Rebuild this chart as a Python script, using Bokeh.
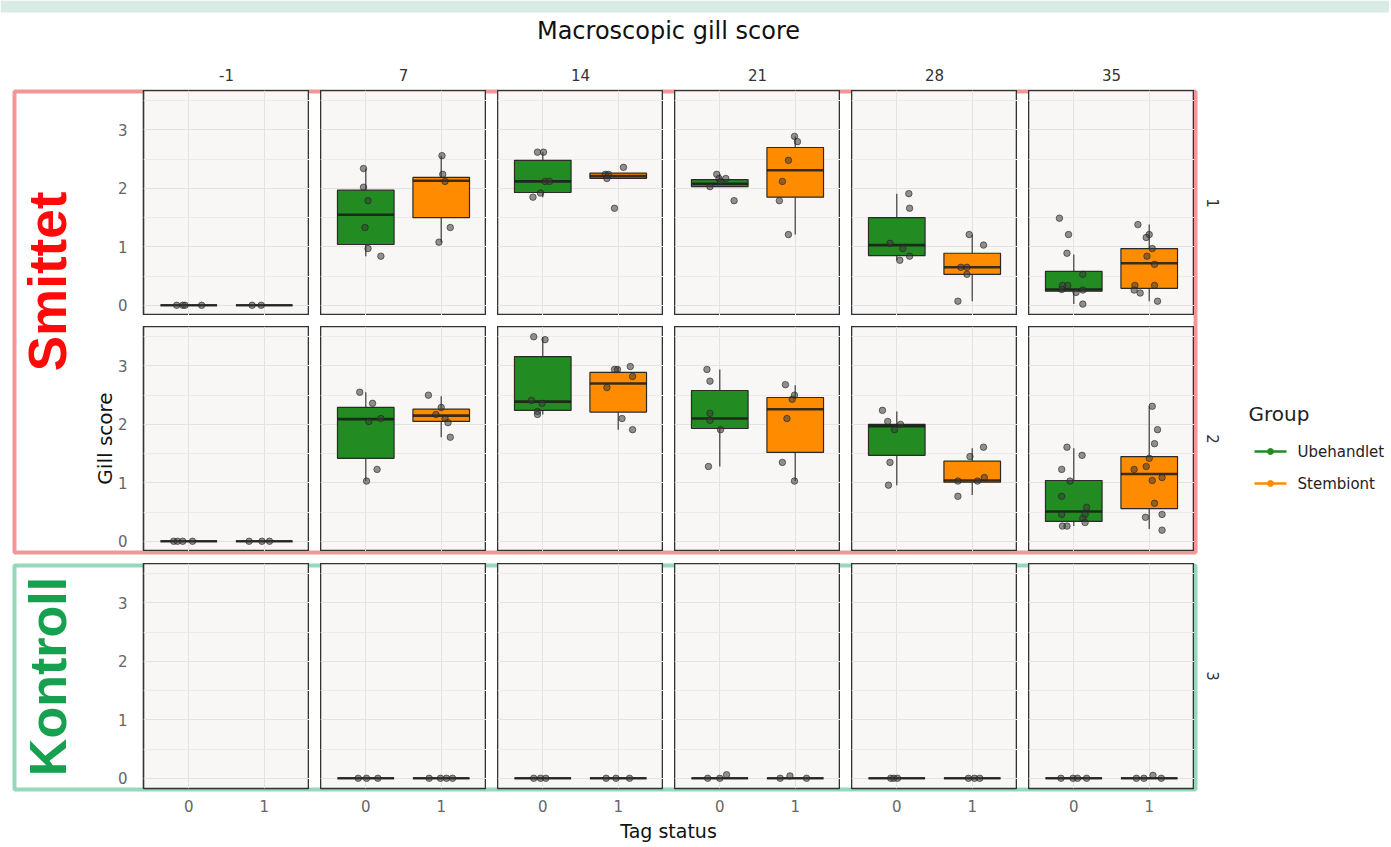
import math
from bokeh.plotting import figure
from bokeh.models import Range1d, FixedTicker, GridBox, ColumnDataSource
from bokeh.transform import dodge
from bokeh.core.properties import value
from bokeh.embed import file_html
from bokeh.resources import INLINE

# ---------------- data ----------------
days = ["-1", "7", "14", "21", "28", "35"]
row_labels = ["1", "2", "3"]
tag_values = [0, 1]
groups = ["Ubehandlet", "Stembiont"]
group_colors = ["#228B22", "#FF8C00"]

# box statistics, per day: [tag 0, tag 1]
r1_lo  = [0, 0, 0.84, 1.08, 1.85, 2.17, 2.03, 1.21, 0.77, 0.07, 0.02, 0.07]
r1_q1  = [0, 0, 1.04, 1.50, 1.93, 2.17, 2.03, 1.85, 0.85, 0.53, 0.24, 0.29]
r1_med = [0, 0, 1.55, 2.13, 2.12, 2.21, 2.08, 2.31, 1.03, 0.65, 0.27, 0.72]
r1_q3  = [0, 0, 1.97, 2.19, 2.48, 2.26, 2.15, 2.70, 1.50, 0.89, 0.58, 0.97]
r1_hi  = [0, 0, 2.34, 2.56, 2.62, 2.26, 2.24, 2.89, 1.91, 1.21, 0.87, 1.38]

r2_lo  = [0, 0, 1.03, 1.78, 2.17, 1.91, 1.28, 1.03, 0.96, 0.79, 0.26, 0.21]
r2_q1  = [0, 0, 1.42, 2.05, 2.24, 2.21, 1.93, 1.52, 1.47, 1.01, 0.34, 0.56]
r2_med = [0, 0, 2.09, 2.15, 2.39, 2.70, 2.10, 2.26, 1.97, 1.04, 0.51, 1.15]
r2_q3  = [0, 0, 2.29, 2.26, 3.16, 2.89, 2.58, 2.46, 2.00, 1.37, 1.04, 1.45]
r2_hi  = [0, 0, 2.55, 2.48, 3.49, 2.99, 2.94, 2.67, 2.22, 1.59, 1.59, 2.31]

r3_lo  = [None, None, 0, 0, 0, 0, 0, 0, 0, 0, 0, 0]
r3_q1  = [None, None, 0, 0, 0, 0, 0, 0, 0, 0, 0, 0]
r3_med = [None, None, 0, 0, 0, 0, 0, 0, 0, 0, 0, 0]
r3_q3  = [None, None, 0, 0, 0, 0, 0, 0, 0, 0, 0, 0]
r3_hi  = [None, None, 0, 0, 0, 0, 0, 0, 0, 0, 0, 0]

# individual fish (gill score) and their horizontal jitter, per day: [tag 0, tag 1]
r1_pts_y = [
    [0, 0, 0, 0], [0, 0],
    [2.34, 2.02, 1.79, 1.33, 0.97, 0.84], [2.56, 2.24, 2.12, 1.33, 1.08],
    [2.62, 2.62, 2.12, 2.12, 1.92, 1.85], [2.36, 2.24, 2.24, 2.17, 1.66],
    [2.24, 2.17, 2.17, 2.12, 2.03, 1.79], [2.89, 2.80, 2.48, 2.12, 1.79, 1.21],
    [1.91, 1.66, 1.06, 0.97, 0.77, 0.84], [1.21, 1.03, 0.65, 0.65, 0.53, 0.07],
    [1.49, 1.21, 0.89, 0.53, 0.34, 0.34, 0.27, 0.26, 0.22, 0.02],
    [1.38, 1.21, 1.16, 0.97, 0.84, 0.70, 0.34, 0.34, 0.26, 0.21, 0.07],
]
r1_pts_dx = [
    [-0.16, -0.08, -0.05, 0.17], [-0.16, -0.04],
    [-0.03, -0.03, 0.03, -0.01, 0.03, 0.2], [0.01, 0.02, 0.05, 0.12, -0.03],
    [-0.07, 0.01, 0.03, 0.09, -0.03, -0.13], [0.07, -0.17, -0.13, -0.15, -0.05],
    [-0.04, -0.01, 0.08, 0.01, -0.13, 0.19], [-0.01, 0.03, -0.09, -0.17, -0.21, -0.09],
    [0.16, 0.17, -0.09, 0.08, 0.04, 0.17], [-0.04, 0.15, -0.15, -0.07, -0.07, -0.19],
    [-0.19, -0.07, -0.09, 0.12, -0.08, -0.15, -0.16, 0.12, 0.03, 0.12],
    [-0.15, 0, -0.04, 0.04, -0.03, 0.07, -0.19, 0.07, -0.2, -0.12, 0.11],
]

r2_pts_y = [
    [0, 0, 0, 0], [0, 0, 0],
    [2.55, 2.36, 2.05, 2.10, 1.23, 1.03], [2.50, 2.29, 2.17, 2.10, 2.03, 1.78],
    [3.50, 3.45, 2.41, 2.36, 2.22, 2.17], [2.94, 2.94, 2.99, 2.82, 2.63, 2.10, 1.91],
    [2.94, 2.74, 2.19, 2.07, 1.91, 1.28], [2.68, 2.50, 2.43, 2.10, 1.35, 1.03],
    [2.24, 2.05, 2.00, 1.91, 1.35, 0.96], [1.61, 1.45, 1.09, 1.03, 1.03, 0.77],
    [1.61, 1.47, 1.23, 1.03, 0.77, 0.58, 0.46, 0.46, 0.39, 0.32, 0.26, 0.26],
    [2.31, 1.91, 1.67, 1.42, 1.28, 1.23, 1.09, 1.04, 0.65, 0.41, 0.46, 0.19],
]
r2_pts_dx = [
    [-0.2, -0.15, -0.08, 0.05], [-0.2, -0.03, 0.07],
    [-0.08, 0.09, 0.04, 0.2, 0.15, 0.01], [-0.17, 0, -0.07, 0.05, 0.09, 0.12],
    [-0.12, 0.03, -0.15, -0.01, -0.07, -0.07], [-0.05, -0.01, 0.16, 0.19, -0.15, 0.05, 0.19],
    [-0.17, -0.13, -0.13, -0.13, 0.01, -0.15], [-0.13, -0.01, -0.04, -0.11, -0.17, -0.01],
    [-0.19, -0.12, 0.05, -0.03, -0.09, -0.11], [0.15, -0.03, 0.16, 0.07, -0.19, -0.19],
    [-0.09, 0.11, -0.16, -0.05, -0.16, 0.17, -0.16, 0.15, 0.12, 0.15, -0.15, -0.09],
    [0.04, 0.11, 0.07, 0, -0.04, -0.2, 0.17, 0.04, 0.07, -0.05, 0.17, 0.17],
]

r3_pts_y = [
    [], [],
    [0, 0, 0], [0, 0, 0, 0],
    [0, 0, 0], [0, 0, 0],
    [0, 0, 0.06], [0, 0.04, 0],
    [0, 0, 0], [0, 0, 0],
    [0, 0, 0, 0], [0, 0, 0.05, 0],
]
r3_pts_dx = [
    [], [],
    [-0.1, 0.01, 0.16], [-0.16, -0.01, 0.07, 0.15],
    [-0.12, -0.03, 0.04], [-0.16, -0.03, 0.15],
    [-0.16, 0, 0.09], [-0.2, -0.07, 0.15],
    [-0.08, -0.04, 0.01], [-0.05, 0.03, 0.1],
    [-0.17, -0.01, 0.05, 0.17], [-0.17, -0.07, 0.05, 0.16],
]

stats = [
    (r1_lo, r1_q1, r1_med, r1_q3, r1_hi, r1_pts_y, r1_pts_dx),
    (r2_lo, r2_q1, r2_med, r2_q3, r2_hi, r2_pts_y, r2_pts_dx),
    (r3_lo, r3_q1, r3_med, r3_q3, r3_hi, r3_pts_y, r3_pts_dx),
]

# ---------------- layout constants ----------------
PW, PH = 166, 225
AXIS_L, AXIS_B = 35, 30
PANEL_BG = "#f9f7f5"
GRID_MAJ = "#e5e2df"
GRID_MIN = "#edeae7"
FONT = "DejaVu Sans"
BOX_W = 0.75
TOTAL_W, TOTAL_H = 1389, 845

def make_panel(i, j):
    lo, q1, med, q3, hi, pys, pdx = stats[i]
    left_axis = (j == 0)
    bottom_axis = (i == 2)
    p = figure(width=PW + (AXIS_L if left_axis else 0),
               height=PH + (AXIS_B if bottom_axis else 0),
               x_range=Range1d(-0.6, 1.6), y_range=Range1d(-0.175, 3.675),
               x_axis_location="below" if bottom_axis else None,
               y_axis_location="left" if left_axis else None,
               toolbar_location=None, output_backend="svg",
               min_border_left=AXIS_L if left_axis else 0, min_border_right=0,
               min_border_top=0, min_border_bottom=AXIS_B if bottom_axis else 0)
    p.border_fill_color = None
    p.background_fill_color = PANEL_BG
    p.outline_line_color = "#333333"
    p.outline_line_width = 1.6
    p.xgrid.ticker = FixedTicker(ticks=[0, 1])
    p.ygrid.ticker = FixedTicker(ticks=[0, 1, 2, 3], minor_ticks=[0.5, 1.5, 2.5, 3.5])
    p.xgrid.grid_line_color = GRID_MAJ
    p.ygrid.grid_line_color = GRID_MAJ
    p.ygrid.minor_grid_line_color = GRID_MIN
    if left_axis:
        ax = p.yaxis[0]
        ax.ticker = FixedTicker(ticks=[0, 1, 2, 3])
        ax.axis_line_color = None
        ax.major_tick_line_color = None
        ax.minor_tick_line_color = None
        ax.major_label_standoff = 10
        ax.major_label_text_font = FONT
        ax.major_label_text_font_size = "15px"
        ax.major_label_text_color = "#666666"
    if bottom_axis:
        ax = p.xaxis[0]
        ax.ticker = FixedTicker(ticks=[0, 1])
        ax.axis_line_color = None
        ax.major_tick_line_color = None
        ax.minor_tick_line_color = None
        ax.major_tick_out = 0
        ax.major_label_standoff = 11
        ax.major_label_text_font = FONT
        ax.major_label_text_font_size = "15px"
        ax.major_label_text_color = "#666666"

    bx = dict(x=[], lo=[], q1=[], med=[], q3=[], hi=[], color=[])
    px, py = [], []
    for t in range(2):
        k = 2 * j + t
        if lo[k] is None:
            continue
        bx["x"].append(tag_values[t])
        bx["lo"].append(lo[k]); bx["q1"].append(q1[k]); bx["med"].append(med[k])
        bx["q3"].append(q3[k]); bx["hi"].append(hi[k])
        bx["color"].append(group_colors[t])
        for yy, dd in zip(pys[k], pdx[k]):
            px.append(tag_values[t] + dd)
            py.append(yy)
    src = ColumnDataSource(bx)
    p.segment(x0="x", y0="q3", x1="x", y1="hi", source=src, line_color="#4a4a4a", line_width=1.3)
    p.segment(x0="x", y0="q1", x1="x", y1="lo", source=src, line_color="#4a4a4a", line_width=1.3)
    p.vbar(x="x", width=BOX_W, bottom="q1", top="q3", source=src,
           fill_color="color", line_color="#2a2a2a", line_width=1.2)
    p.segment(x0=dodge("x", -BOX_W / 2), x1=dodge("x", BOX_W / 2), y0="med", y1="med",
              source=src, line_color="#1a1a1a", line_alpha=0.85, line_width=2.6)
    p.scatter(x=px, y=py, size=6.5, fill_color="#3a3a3a", fill_alpha=0.55,
              line_color="#222222", line_alpha=0.6)
    return p

# ---------------- background / annotation layer ----------------
bg = figure(width=TOTAL_W, height=TOTAL_H, x_range=Range1d(0, TOTAL_W), y_range=Range1d(TOTAL_H, 0),
            x_axis_location=None, y_axis_location=None, toolbar_location=None,
            output_backend="svg", min_border=0)
bg.grid.visible = False
bg.outline_line_color = None
bg.background_fill_color = "white"
bg.border_fill_color = "white"

LEFT0, PITCH = 143, 177
TOPS = [90, 326, 563]

bg.quad(left=0, right=TOTAL_W, top=0, bottom=12, fill_color="#d8ebe5", line_color=None)
bg.quad(left=14, right=1195, top=91, bottom=552, fill_color=None,
        line_color="#f29696", line_width=4)
bg.quad(left=14, right=1195, top=565, bottom=789, fill_color=None,
        line_color="#95d9bb", line_width=4)

bg.text(x=[668], y=[30], text=["Macroscopic gill score"], text_font=value(FONT),
        text_font_size="24px", text_color="#111111", text_align="center", text_baseline="middle")
bg.text(x=[LEFT0 + PITCH * k + PW / 2 for k in range(6)], y=[74] * 6, text=days,
        text_font=value(FONT), text_font_size="15px", text_color="#333333",
        text_align="center", text_baseline="middle")
bg.text(x=[1212] * 3, y=[t + PH / 2 for t in TOPS], text=row_labels, angle=-math.pi / 2,
        text_font=value(FONT), text_font_size="15px", text_color="#333333",
        text_align="center", text_baseline="middle")
bg.text(x=[668], y=[830], text=["Tag status"], text_font=value(FONT),
        text_font_size="19px", text_color="#111111", text_align="center", text_baseline="middle")
bg.text(x=[104], y=[438], text=["Gill score"], angle=math.pi / 2, text_font=value(FONT),
        text_font_size="20px", text_color="#111111", text_align="center", text_baseline="middle")
bg.text(x=[47], y=[281], text=["Smittet"], angle=math.pi / 2, text_font=value("Liberation Sans"),
        text_font_style="bold", text_font_size="53px", text_color="#ff0a0a",
        text_align="center", text_baseline="middle")
bg.text(x=[47], y=[676], text=["Kontroll"], angle=math.pi / 2, text_font=value("Liberation Sans"),
        text_font_style="bold", text_font_size="52px", text_color="#17a04f",
        text_align="center", text_baseline="middle")

# legend
bg.text(x=[1248], y=[413], text=["Group"], text_font=value(FONT), text_font_size="20px",
        text_color="#222222", text_align="left", text_baseline="middle")
leg_y = [451, 483]
bg.segment(x0=[1254, 1254], x1=[1286, 1286], y0=leg_y, y1=leg_y, line_color=group_colors, line_width=2.5)
bg.scatter(x=[1270, 1270], y=leg_y, size=6, color=group_colors)
bg.text(x=[1297, 1297], y=leg_y, text=groups, text_font=value(FONT), text_font_size="15px",
        text_color="#222222", text_align="left", text_baseline="middle")

# ---------------- assemble ----------------
children = [(bg, 0, 0, 7, 13)]
for i in range(3):
    for j in range(6):
        children.append((make_panel(i, j), 1 + 2 * i, 1 + 2 * j))

cols = ["108px", "201px"] + ["11px", "166px"] * 5 + ["195px"]
rows = ["90px", "225px", "11px", "225px", "12px", "255px", "27px"]
layout = GridBox(children=children, cols=cols, rows=rows, spacing=0)

open("out.html", "w").write(file_html(layout, INLINE))
